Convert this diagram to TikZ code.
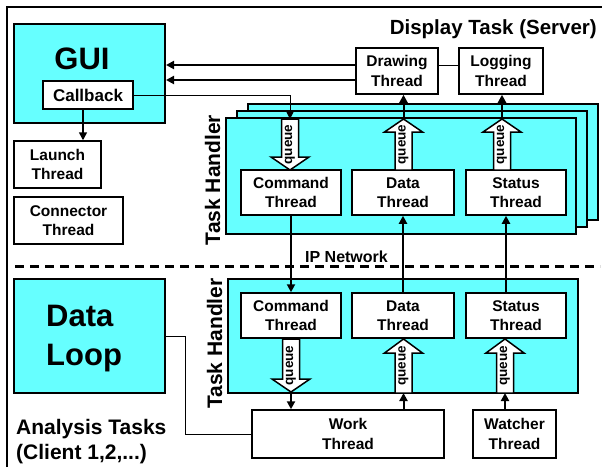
\documentclass[tikz,border=0pt]{standalone}
\usepackage{fontspec}
\setmainfont{Liberation Sans}
\usetikzlibrary{arrows.meta}
\definecolor{cy}{RGB}{102,255,255}
\newcommand\qarr[5]{%
  \draw[qshape] (#2-8.5,#3) -- (#2+8.5,#3) -- (#2+8.5,#4) -- (#2+19,#4) -- (#2,#5) -- (#2-19,#4) -- (#2-8.5,#4) -- cycle;
  \coordinate (#1tail) at (#2,#3);
  \coordinate (#1tip) at (#2,#5);
  \node[qtext] (#1) at (#2,{(#3+#5)/2}) {queue};}
\begin{document}
\begin{tikzpicture}[x=1pt,y=-1pt,
  >={Triangle[length=8pt,width=8pt]},
  tb/.style={draw,line width=1.5pt,fill=white,align=center,inner sep=0pt,
    font=\fontsize{15.5}{19.5}\bfseries\selectfont},
  cybox/.style={draw,line width=2pt,fill=cy,inner sep=0pt},
  qshape/.style={draw,line width=1.5pt,fill=white,line join=miter},
  qtext/.style={rotate=90,inner sep=0pt,font=\fontsize{13.5}{14}\bfseries\selectfont},
  thk/.style={line width=2pt},
  thn/.style={line width=1pt},
  netline/.style={line width=3pt,dash pattern=on 9pt off 6pt},
  big/.style={inner sep=0pt,font=\fontsize{31}{39}\bfseries\selectfont,align=left},
  lbl/.style={inner sep=0pt,font=\fontsize{21}{25}\bfseries\selectfont,align=left}]
\useasboundingbox (0,0) rectangle (602,467);
% outer frame
\draw[line width=1.5pt] (7,467) -- (7,7) -- (602,7);
\node[lbl,anchor=base east,font=\fontsize{20.5}{24}\bfseries\selectfont] (disp) at (597,34) {Display Task (Server)};
% GUI
\node[cybox,minimum width=151,minimum height=99] (gui) at (89.5,73.5) {};
\node[big,anchor=base] (guit) at (82,69) {GUI};
\node[tb,minimum width=90,minimum height=28,font=\fontsize{17}{20}\bfseries\selectfont] (callback) at (88,95) {Callback};
\node[tb,minimum width=87,minimum height=47] (launch) at (57.5,164.5) {Launch\\Thread};
\node[tb,minimum width=109,minimum height=47] (connector) at (68.5,220.5) {Connector\\Thread};
% server top threads
\node[tb,minimum width=82,minimum height=46] (drawing) at (397,71) {Drawing\\Thread};
\node[tb,minimum width=84,minimum height=46] (logging) at (501,71) {Logging\\Thread};
% server task handler stack
\node[cybox,minimum width=350,minimum height=116] (back3) at (423,162) {};
\node[cybox,minimum width=350,minimum height=116] (back2) at (412,169) {};
\node[cybox,minimum width=350,minimum height=116] (sfront) at (401,176) {};
\node[lbl,rotate=90,anchor=base] (sth) at (220,180) {Task Handler};
\node[tb,minimum width=100,minimum height=45] (scmd) at (291,192.5) {Command\\Thread};
\node[tb,minimum width=102,minimum height=45] (sdata) at (403,192.5) {Data\\Thread};
\node[tb,minimum width=100,minimum height=45] (sstat) at (516,192.5) {Status\\Thread};
\qarr{qsc}{290}{119}{157}{170}
\qarr{qsd}{403.5}{170}{132}{119}
\qarr{qss}{502}{170}{132}{119}
% network
\coordinate (dl) at (15,266);
\coordinate (dr) at (600,266);
\draw[netline] (dl) -- (dr);
\node[lbl,font=\fontsize{16}{18}\bfseries\selectfont,anchor=base] (ip) at (346.5,262) {IP Network};
% client
\node[cybox,minimum width=151,minimum height=114] (loop) at (89.5,336) {};
\node[big,anchor=north west] (loopt) at (46,305) {Data\\Loop};
\node[lbl,anchor=north west] (ana) at (16,419) {Analysis Tasks\\(Client 1,2,...)};
\node[cybox,minimum width=350,minimum height=114] (cfront) at (403,336) {};
\node[lbl,rotate=90,anchor=base] (cth) at (222,343.5) {Task Handler};
\node[tb,minimum width=100,minimum height=45] (ccmd) at (291,315.5) {Command\\Thread};
\node[tb,minimum width=102,minimum height=45] (cdata) at (403,315.5) {Data\\Thread};
\node[tb,minimum width=100,minimum height=45] (cstat) at (516,315.5) {Status\\Thread};
\qarr{qcc}{291}{339}{379}{392}
\qarr{qcd}{403.5}{393}{353}{339}
\qarr{qcs}{505}{393}{353}{339}
\node[tb,minimum width=192,minimum height=48] (work) at (348,434) {Work\\Thread};
\node[tb,minimum width=83,minimum height=48] (watcher) at (514.5,434) {Watcher\\Thread};
% connectors
\coordinate (ya) at (0,65);
\coordinate (yb) at (0,80);
\coordinate (cbx) at (83,0);
\coordinate (stx) at (506,0);
\draw[thk,->] (drawing.west |- ya) -- (gui.east |- ya);
\draw[thk,->] (drawing.west |- yb) -- (gui.east |- yb);
\draw[thn] (drawing.east |- ya) -- (logging.west |- ya);
\draw[thn,->] (callback.east) -- (qsctail |- callback.east) -- (qsctail);
\draw[line width=1.5pt,->] (cbx |- callback.south) -- (cbx |- launch.north);
\draw[thk,->] (qsdtip) -- (qsdtip |- drawing.south);
\draw[thk,->] (qsstip) -- (qsstip |- logging.south);
\draw[thk,->] (scmd.south) -- (ccmd.north);
\draw[thk,->] (cdata.north) -- (sdata.south);
\draw[thk,->] (stx |- cstat.north) -- (stx |- sstat.south);
\draw[thk,->] (qcctip) -- (qcctip |- work.north);
\draw[thk,->] (qcdtail |- work.north) -- (qcdtail);
\draw[thk,->] (qcstail |- watcher.north) -- (qcstail);
\draw[thn] (loop.east) -- ++(19,0) |- (work.west);
\end{tikzpicture}
\end{document}
